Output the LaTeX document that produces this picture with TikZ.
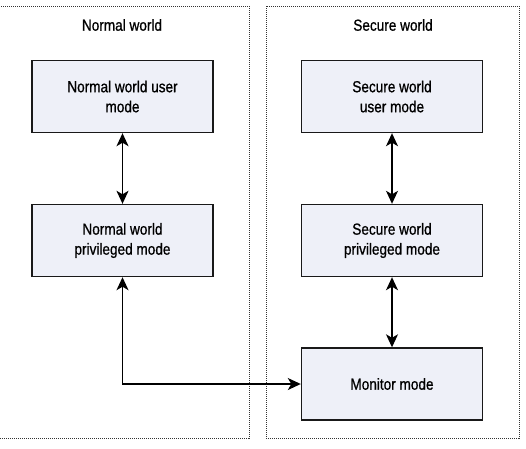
\documentclass[tikz,border=0pt]{standalone}
\usepackage{fontspec}
\setmainfont{Liberation Sans}[FakeStretch=0.85,FakeBold=0.8]
\usetikzlibrary{arrows.meta}
\definecolor{boxfill}{HTML}{EEF0F8}
\tikzset{
  world/.style={draw=black!80, line width=0.9pt, dash pattern=on 1pt off 1pt},
  modebox/.style={draw=black!90, line width=1.4pt, fill=boxfill, minimum width=181pt,
    minimum height=72pt, align=center, font=\fontsize{16}{20}\selectfont, inner sep=0pt},
  title/.style={font=\fontsize{16}{20}\selectfont},
  tip/.style={Stealth[length=13pt,width=12pt,inset=3.5pt]},
  link/.style={line width=1.4pt, {Stealth[length=13pt,width=12pt,inset=3.5pt]}-{Stealth[length=13pt,width=12pt,inset=3.5pt]}}
}
\begin{document}
\begin{tikzpicture}[x=1pt,y=-1pt]
\useasboundingbox (0,0) rectangle (526,448);
% world frames
\draw[world] (-2,6) rectangle (249,438);
\draw[world] (266,6) rectangle (519,438);
\node[title] (ntitle) at (122,25) {Normal world};
\node[title] (stitle) at (393,25) {Secure world};
% modes
\node[modebox] (nuser) at (122.5,96.5) {Normal world user\\mode};
\node[modebox] (npriv) at (122.5,240.5) {Normal world\\privileged mode};
\node[modebox] (suser) at (392,96.5) {Secure world\\user mode};
\node[modebox] (spriv) at (392,240.5) {Secure world\\privileged mode};
\node[modebox] (mon) at (392,384) {Monitor mode};
% transitions
\draw[link] (nuser) -- (npriv);
\draw[link] (suser) -- (spriv);
\draw[link] (spriv) -- (mon);
\draw[link] (npriv.south) |- (mon.west);
\end{tikzpicture}
\end{document}
